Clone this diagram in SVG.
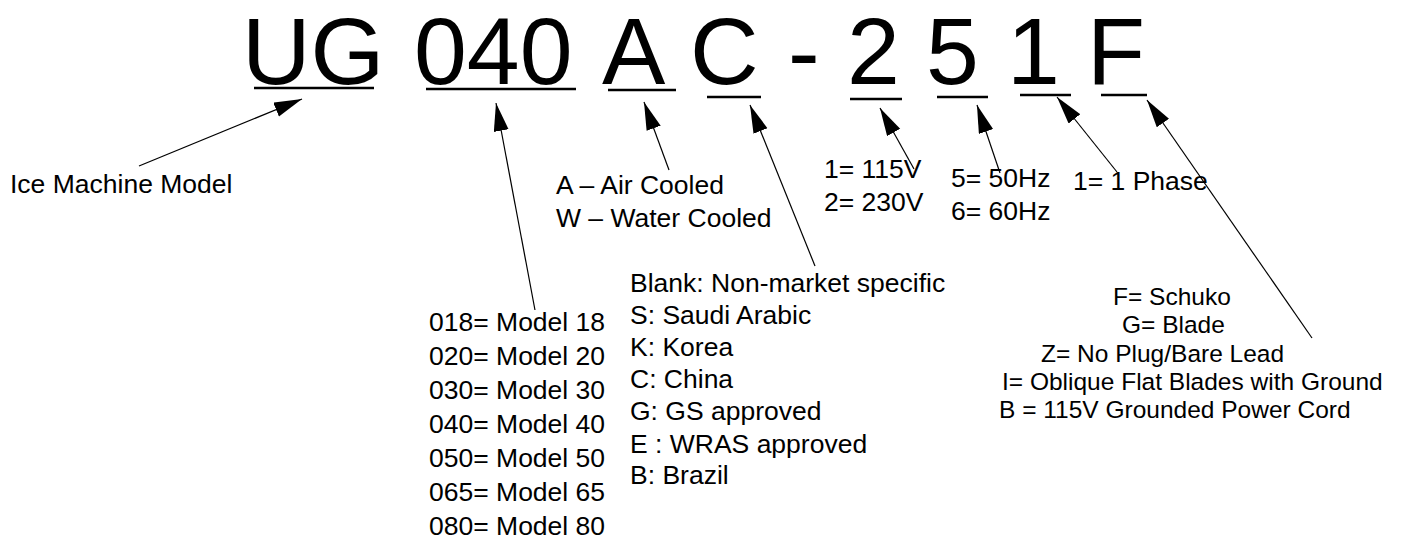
<svg xmlns="http://www.w3.org/2000/svg" width="1403" height="541" viewBox="0 0 1403 541">
<style>
.big{font-family:"Liberation Sans",Arial,sans-serif;font-size:95px;fill:#000}
.lbl{font-family:"Liberation Sans",Arial,sans-serif;font-size:26.5px;fill:#000}
.sm{font-family:"Liberation Sans",Arial,sans-serif;font-size:24.5px;fill:#000}
.ul{stroke:#000;stroke-width:2.5}
.con{stroke:#000;stroke-width:1.2;fill:none;marker-end:url(#ah)}
</style>
<defs>
<marker id="ah" markerUnits="userSpaceOnUse" markerWidth="30" markerHeight="16" refX="28" refY="7.5" orient="auto">
<path d="M0,0 L28,7.5 L0,15 z" fill="#000"/>
</marker>
</defs>
<rect width="1403" height="541" fill="#fff"/>
<g id="code">
<text class="big" x="242" y="84">UG</text>
<text class="big" x="414" y="84">040</text>
<text class="big" x="602" y="84">A</text>
<text class="big" x="690" y="84">C</text>
<text class="big" x="788" y="84">-</text>
<text class="big" x="847" y="84">2</text>
<text class="big" x="926" y="84">5</text>
<text class="big" x="1007" y="84">1</text>
<text class="big" x="1087" y="84">F</text>
<line class="ul" x1="254" y1="88" x2="374" y2="88"/>
<line class="ul" x1="426" y1="89" x2="576" y2="89"/>
<line class="ul" x1="608" y1="90" x2="676" y2="90"/>
<line class="ul" x1="707" y1="97" x2="761" y2="97"/>
<line class="ul" x1="850" y1="99" x2="902" y2="99"/>
<line class="ul" x1="937" y1="97" x2="988" y2="97"/>
<line class="ul" x1="1020" y1="95" x2="1071" y2="95"/>
<line class="ul" x1="1101" y1="95" x2="1147" y2="95"/>
</g>
<g id="connectors">
<line class="con" x1="139" y1="166" x2="302" y2="99"/>
<line class="con" x1="535" y1="310" x2="496" y2="103"/>
<line class="con" x1="669" y1="170" x2="644" y2="102"/>
<line class="con" x1="815" y1="266" x2="750" y2="105"/>
<line class="con" x1="914" y1="169" x2="880" y2="108"/>
<line class="con" x1="1000" y1="173" x2="977" y2="105"/>
<line class="con" x1="1117" y1="172" x2="1057" y2="97"/>
<line class="con" x1="1312" y1="338" x2="1147" y2="100"/>
</g>
<g id="model">
<text class="lbl" x="10" y="193">Ice Machine Model</text>
</g>
<g id="size">
<text class="lbl" x="429" y="331">018= Model 18</text>
<text class="lbl" x="429" y="365">020= Model 20</text>
<text class="lbl" x="429" y="399">030= Model 30</text>
<text class="lbl" x="429" y="433">040= Model 40</text>
<text class="lbl" x="429" y="467">050= Model 50</text>
<text class="lbl" x="429" y="501">065= Model 65</text>
<text class="lbl" x="429" y="535">080= Model 80</text>
</g>
<g id="cooling">
<text class="lbl" x="556" y="194">A – Air Cooled</text>
<text class="lbl" x="556" y="227">W – Water Cooled</text>
</g>
<g id="market">
<text class="lbl" x="630" y="292">Blank: Non-market specific</text>
<text class="lbl" x="630" y="324">S: Saudi Arabic</text>
<text class="lbl" x="630" y="356">K: Korea</text>
<text class="lbl" x="630" y="388">C: China</text>
<text class="lbl" x="630" y="420">G: GS approved</text>
<text class="lbl" x="630" y="453">E : WRAS approved</text>
<text class="lbl" x="630" y="484">B: Brazil</text>
</g>
<g id="voltage">
<text class="lbl" x="824" y="178">1= 115V</text>
<text class="lbl" x="824" y="211">2= 230V</text>
</g>
<g id="frequency">
<text class="lbl" x="951" y="187">5= 50Hz</text>
<text class="lbl" x="951" y="220">6= 60Hz</text>
</g>
<g id="phase">
<text class="lbl" x="1073" y="190">1= 1 Phase</text>
</g>
<g id="plug">
<text class="sm" x="1113" y="305">F= Schuko</text>
<text class="sm" x="1122" y="333">G= Blade</text>
<text class="sm" x="1041" y="362">Z= No Plug/Bare Lead</text>
<text class="sm" x="1002" y="390">I= Oblique Flat Blades with Ground</text>
<text class="sm" x="999" y="418">B = 115V Grounded Power Cord</text>
</g>
</svg>
